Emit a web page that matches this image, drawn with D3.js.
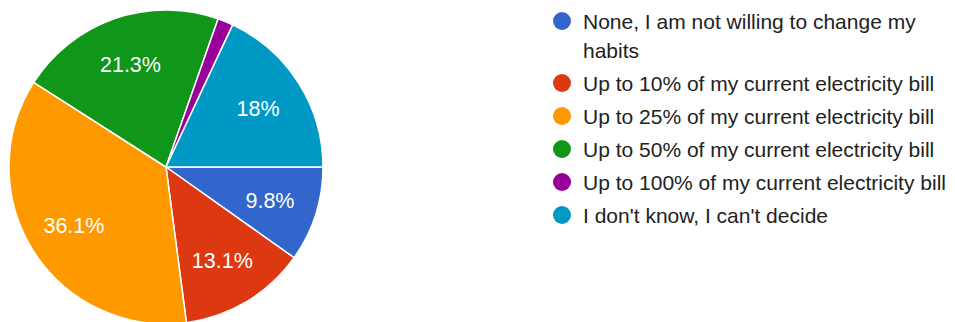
<!DOCTYPE html>
<html>
<head>
<meta charset="utf-8">
<script src="https://cdn.jsdelivr.net/npm/d3@7"></script>
<style>
  html, body { margin: 0; padding: 0; background: #ffffff; }
  svg { display: block; font-family: Arial, "Liberation Sans", sans-serif; }
</style>
</head>
<body>
<svg id="chart" width="955" height="322"></svg>
<script>
// Answer categories, in legend order
const categories = [
  "None, I am not willing to change my habits",
  "Up to 10% of my current electricity bill",
  "Up to 25% of my current electricity bill",
  "Up to 50% of my current electricity bill",
  "Up to 100% of my current electricity bill",
  "I don't know, I can't decide"
];
// Share of responses (percent)
const shares = [9.8, 13.1, 36.1, 21.3, 1.6, 18];
// Slice labels as printed
const sliceLabels = ["9.8%", "13.1%", "36.1%", "21.3%", "", "18%"];
const colors = ["#3366cc", "#dc3912", "#ff9900", "#109618", "#990099", "#0099c6"];

const svg = d3.select("#chart");
const cx = 166, cy = 167, radius = 157;

const data = categories.map((c, i) => ({ name: c, value: shares[i], label: sliceLabels[i], color: colors[i] }));

const pie = d3.pie()
  .value(d => d.value)
  .sort(null)
  .startAngle(Math.PI / 2)
  .endAngle(Math.PI / 2 + 2 * Math.PI);

const arc = d3.arc().innerRadius(0).outerRadius(radius);
const labelArc = d3.arc().innerRadius(radius * 0.695).outerRadius(radius * 0.695);

const g = svg.append("g").attr("transform", `translate(${cx},${cy})`);
const arcs = pie(data);

g.selectAll("path.slice")
  .data(arcs)
  .join("path")
  .attr("class", "slice")
  .attr("d", arc)
  .attr("fill", d => d.data.color)
  .attr("stroke", "#ffffff")
  .attr("stroke-width", 1.5)
  .attr("stroke-linejoin", "round");

g.selectAll("text.slice-label")
  .data(arcs.filter(d => d.data.label))
  .join("text")
  .attr("class", "slice-label")
  .attr("transform", d => `translate(${labelArc.centroid(d)})`)
  .attr("text-anchor", "middle")
  .attr("dy", "0.36em")
  .attr("fill", "#ffffff")
  .attr("font-size", 21.5)
  .text(d => d.data.label);

// Legend
const legendX = 562, textX = 583, maxWidth = 366;
const legend = svg.append("g");
let y = 21;
data.forEach(d => {
  const row = legend.append("g");
  row.append("circle")
    .attr("cx", legendX).attr("cy", y).attr("r", 9)
    .attr("fill", d.color);
  const text = row.append("text")
    .attr("x", textX).attr("y", y)
    .attr("dy", "0.36em")
    .attr("fill", "#222222")
    .attr("font-size", 21);
  // Word-wrap the label to the legend width
  const words = d.name.split(" ");
  let line = [];
  let tspan = text.append("tspan").attr("x", textX).attr("y", y).attr("dy", "0.36em");
  let lines = 1;
  words.forEach(w => {
    line.push(w);
    tspan.text(line.join(" "));
    if (tspan.node().getComputedTextLength() > maxWidth && line.length > 1) {
      line.pop();
      tspan.text(line.join(" "));
      line = [w];
      tspan = text.append("tspan").attr("x", textX).attr("y", y + 29 * lines).attr("dy", "0.36em").text(w);
      lines++;
    }
  });
  y += 33 + 29 * (lines - 1);
});
</script>
</body>
</html>
